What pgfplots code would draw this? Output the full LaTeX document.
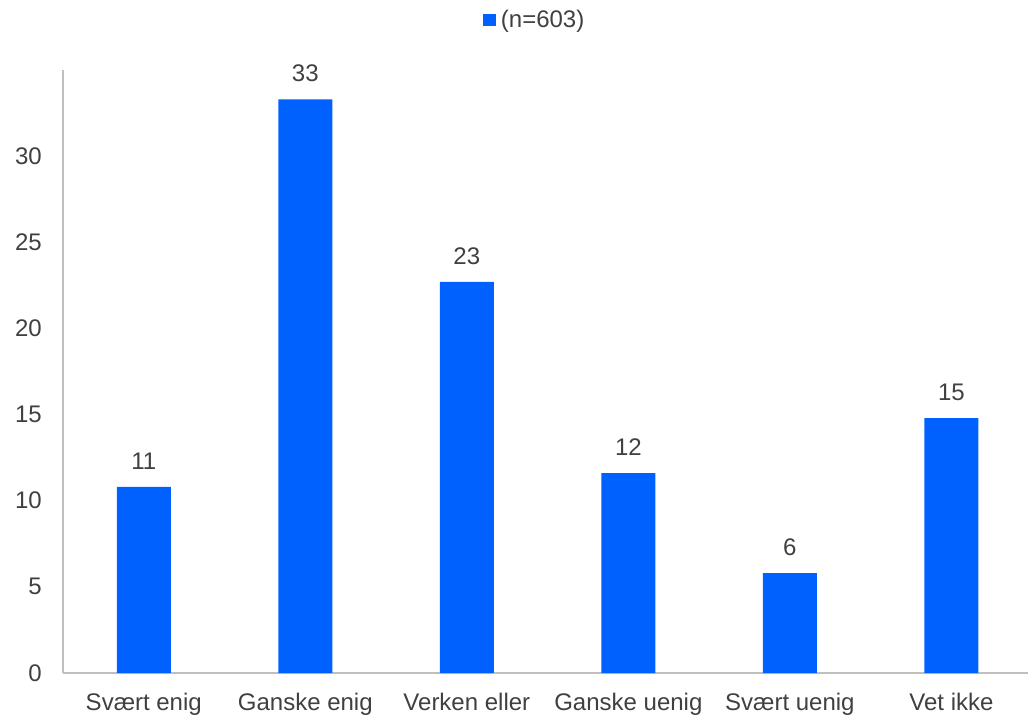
\documentclass[border=0pt]{standalone}
\usepackage{pgfplots}
\pgfplotsset{compat=1.18}
\usepackage{fontspec}
\setmainfont{Liberation Sans}
\definecolor{barblue}{HTML}{0061FF}
\definecolor{txt}{HTML}{404040}
\definecolor{axgray}{HTML}{BFBFBF}
\begin{document}
\begin{tikzpicture}
\path[use as bounding box] (0,0) rectangle (771pt,536.25pt);
\begin{axis}[
  at={(47.25pt,31.5pt)}, anchor=south west,
  scale only axis, width=723.75pt, height=452.25pt,
  xmin=-0.5, xmax=5.474, ymin=0, ymax=35,
  ybar, bar width=40.5pt,
  axis lines*=left,
  axis line style={draw=axgray, line width=1.2pt},
  major tick length=0pt,
  xtick={0,1,2,3,4,5},
  xticklabels={Svært enig,Ganske enig,Verken eller,Ganske uenig,Svært uenig,Vet ikke},
  ytick={0,5,10,15,20,25,30},
  /pgf/number format/assume math mode=true,
  ticklabel style={font=\fontsize{18}{18}\selectfont, text=txt},
  xticklabel style={inner sep=0pt, anchor=north, yshift=-15pt},
  yticklabel style={inner sep=0pt, anchor=east, xshift=-15.75pt},
  nodes near coords,
  nodes near coords style={font=\fontsize{18}{18}\selectfont, text=txt, inner sep=0pt, anchor=south, yshift=12.75pt, /pgf/number format/fixed, /pgf/number format/precision=0},
  legend style={draw=none, fill=none, at={(0.489,1.083)}, anchor=center, font=\fontsize{18}{18}\selectfont, text=txt, /tikz/every odd column/.style={column sep=2pt}},
  legend image code/.code={\fill[#1] (0pt,-4.8pt) rectangle (9.6pt,4.8pt);},
  clip=false,
]
\addplot[fill=barblue, draw=none] coordinates {(0,10.8) (1,33.3) (2,22.7) (3,11.6) (4,5.8) (5,14.8)};
\addlegendentry{(n=603)}
\end{axis}
\end{tikzpicture}
\end{document}
